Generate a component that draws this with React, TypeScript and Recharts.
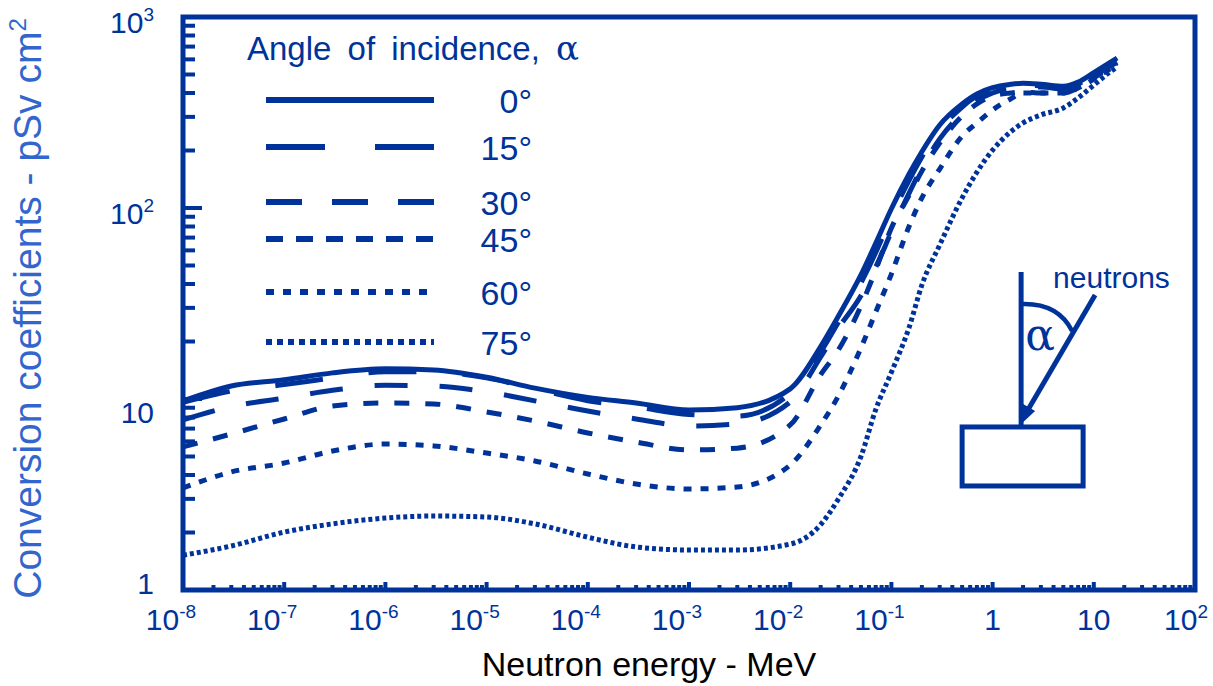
import React from 'react';
import { LineChart, Line, XAxis, YAxis, ReferenceArea, ReferenceDot, Legend } from 'recharts';

// ---------- data ----------
const energies = [1e-8, 3e-8, 1e-7, 3e-7, 1e-6, 3e-6, 1e-5, 3e-5, 1e-4, 3e-4, 1e-3, 3e-3,
  1e-2, 2e-2, 3e-2, 5e-2, 7e-2, 0.1, 0.15, 0.2, 0.3, 0.5, 0.7, 1, 1.5, 2, 3, 5, 7, 10, 14, 17];
const alpha0 = [9.76, 11.7, 12.6, 13.7, 14.4, 14.2, 13.0, 11.4, 10.2, 9.53, 8.76, 9.0,
  11.3, 18.8, 27.2, 44.6, 65.3, 99.1, 151, 197, 272, 351, 396, 427, 444, 450, 445, 434, 456, 511, 571, 610];
const alpha15 = [9.6, 11.0, 11.9, 12.9, 13.9, 13.9, 12.9, 11.3, 9.8, 9.1, 8.3, 8.15,
  10.7, 17.6, 25.3, 40.5, 58.5, 90.5, 140, 185, 256, 338, 386, 420, 436, 440, 436, 425, 445, 503, 562, 595];
const alpha30 = [7.77, 9.13, 10.1, 11.1, 11.8, 11.7, 10.9, 9.78, 8.65, 7.86, 7.22, 7.4,
  9.65, 16.6, 23.5, 34.7, 49, 75, 120, 162, 230, 313, 364, 400, 425, 430, 430, 420, 436, 490, 548, 580];
const alpha45 = [5.61, 6.56, 7.86, 9.19, 9.53, 9.42, 8.55, 7.67, 6.64, 5.95, 5.41, 5.53,
  7.31, 13.4, 18.1, 30.7, 47.4, 78.6, 117, 156, 219, 303, 351, 386, 400, 405, 400, 400, 425, 480, 541, 575];
const alpha60 = [3.42, 4.15, 4.62, 5.34, 5.81, 5.68, 5.21, 4.74, 4.05, 3.59, 3.38, 3.46,
  4.51, 7.31, 10.4, 18.5, 28.5, 45.1, 80.5, 113, 160, 238, 279, 326, 372, 400, 400, 400, 425, 473, 528, 561];
const alpha75 = [1.52, 1.70, 2.01, 2.22, 2.38, 2.44, 2.41, 2.22, 1.89, 1.68, 1.62, 1.62,
  1.74, 2.2, 3.0, 5.0, 8.8, 13.8, 23.8, 39.5, 64, 113, 154, 201, 250, 279, 307, 334, 377, 440, 509, 547];
const angleLabels = ['0°', '15°', '30°', '45°', '60°', '75°'];
const seriesKeys = ['a0', 'a15', 'a30', 'a45', 'a60', 'a75'];
const seriesValues = [alpha0, alpha15, alpha30, alpha45, alpha60, alpha75];
const xDomain = [1e-8, 100];
const yDomain = [1, 1000];
const legendTitle = 'Angle of incidence, ';
const xTitle = 'Neutron energy - MeV';
const yTitle = 'Conversion coefficients - pSv cm';

const data = energies.map((e, i) => {
  const row: any = { e };
  seriesKeys.forEach((k, s) => { row[k] = seriesValues[s][i]; });
  return row;
});

// ---------- styling ----------
const BLUE = '#003399';
const LIGHT_BLUE = '#3366CC';
const FONT = '"Liberation Sans", Arial, Helvetica, sans-serif';
const SERIF = '"DejaVu Serif", "Liberation Serif", "Times New Roman", serif';
const lineDash = ['', '48 46', '33 32', '15 16', '8 9', '4 3'];
const legendDash = ['', '59 50', '36 30', '17 13', '8 9', '6 5'];
const legendRowY = [72, 119, 174, 211, 264, 314];

const makeLogTicks = (minExp: number, maxExp: number) => {
  const t: number[] = [];
  for (let k = minExp; k < maxExp; k++) {
    for (let m = 1; m < 10; m++) t.push(Number((m * Math.pow(10, k)).toPrecision(6)));
  }
  t.push(Number(Math.pow(10, maxExp).toPrecision(6)));
  return t;
};
const xTicks = makeLogTicks(-8, 2);
const yTicks = makeLogTicks(0, 3);

const expOf = (v: number) => Math.round(Math.log10(v));
const isMajor = (v: number) => Math.abs(Math.log10(v) - expOf(v)) < 1e-6;

const TickText = ({ v, ...rest }: any) => {
  const e = expOf(v);
  const base = e === 0 ? '1' : '10';
  const sup = e === 0 || e === 1 ? '' : String(e);
  return (
    <text fill={BLUE} fontSize={30} fontFamily={FONT} {...rest}>
      {base}
      {sup && <tspan dy={-12} fontSize={19}>{sup}</tspan>}
    </text>
  );
};

const XTick = (props: any) => {
  const { x, y, payload } = props;
  const v = payload.value;
  const major = isMajor(v);
  const e = expOf(v);
  const hasSup = e !== 0 && e !== 1;
  return (
    <g>
      <line x1={x} x2={x} y1={y} y2={y - (major ? 8 : 5)} stroke={BLUE} strokeWidth={4} />
      {major && (
        <TickText v={v} x={x} y={y + 40} dx={hasSup ? (e < 0 ? -12 : -9) : 0} textAnchor="middle" />
      )}
    </g>
  );
};

const yLabelOffset: Record<number, number> = { 0: 4, 1: 24, 2: 16, 3: 16 };
const YTick = (props: any) => {
  const { x, y, payload } = props;
  const v = payload.value;
  const major = isMajor(v);
  return (
    <g>
      <line x1={x} x2={x + (major ? 19 : 12)} y1={y} y2={y} stroke={BLUE} strokeWidth={4} />
      {major && <TickText v={v} x={x - 29} y={y + yLabelOffset[expOf(v)]} textAnchor="end" />}
    </g>
  );
};

const XTitle = (props: any) => {
  const vb = props.viewBox || { x: 183, y: 590, width: 1012 };
  return (
    <text x={vb.x + vb.width / 2 - 40} y={676} textAnchor="middle" fill="#000" fontSize={34} fontFamily={FONT}>
      {xTitle}
    </text>
  );
};

const YTitle = (props: any) => {
  const vb = props.viewBox || { x: 0, y: 17, width: 183, height: 573 };
  const cx = 41;
  const cy = vb.y + vb.height / 2 + 5;
  return (
    <text x={cx} y={cy} transform={`rotate(-90, ${cx}, ${cy})`} textAnchor="middle" fill={LIGHT_BLUE}
      fontSize={39} fontFamily={FONT}>
      {yTitle}
      <tspan dy={-15} fontSize={24}>2</tspan>
    </text>
  );
};

const LegendContent = () => (
  <svg width={380} height={340} style={{ overflow: 'visible', display: 'block' }}>
    <text x={9} y={32} fill={BLUE} fontSize={33} fontFamily={FONT} wordSpacing={7}>
      {legendTitle}
      <tspan fontFamily={SERIF} fontSize={34}>α</tspan>
    </text>
    {angleLabels.map((lab, i) => (
      <g key={lab}>
        <line x1={28} x2={196} y1={legendRowY[i]} y2={legendRowY[i]} stroke={BLUE} strokeWidth={6}
          strokeDasharray={legendDash[i] || undefined} />
        <text x={294} y={legendRowY[i] + 13} textAnchor="end" fill={BLUE} fontSize={34} fontFamily={FONT}>
          {lab}
        </text>
      </g>
    ))}
  </svg>
);

const Diagram = (props: any) => {
  const { cx, cy } = props;
  if (cx == null || cy == null) return null;
  return (
    <g transform={`translate(${cx}, ${cy})`}>
      <rect x={-58} y={4} width={121} height={59} fill="none" stroke={BLUE} strokeWidth={5} />
      <line x1={1} x2={1} y1={-151} y2={2} stroke={BLUE} strokeWidth={5} />
      <line x1={75} y1={-128} x2={6} y2={-10} stroke={BLUE} strokeWidth={5} />
      <polygon points="0,2 15,-12 3,-19" fill={BLUE} />
      <path d="M 2 -119 Q 38 -120 52 -92" fill="none" stroke={BLUE} strokeWidth={4.5} />
      <text x={20} y={-73} textAnchor="middle" fill={BLUE} fontSize={44} fontFamily={SERIF}>α</text>
      <text x={33} y={-135} fill={BLUE} fontSize={30} fontFamily={FONT}>neutrons</text>
    </g>
  );
};

export default function App() {
  return (
    <div style={{ width: 1213, height: 686, background: '#fff' }}>
      <style>{'html,body{margin:0;padding:0;overflow:hidden;background:#fff}'}</style>
      <LineChart width={1213} height={686} data={data} margin={{ top: 17, right: 18, bottom: 0, left: 0 }}>
        <XAxis dataKey="e" type="number" scale="log" domain={xDomain} allowDataOverflow ticks={xTicks}
          interval={0} axisLine={false} tickLine={false} tickSize={0} tickMargin={0} height={96}
          tick={<XTick />} label={<XTitle />} />
        <YAxis type="number" scale="log" domain={yDomain} allowDataOverflow ticks={yTicks}
          interval={0} axisLine={false} tickLine={false} tickSize={0} tickMargin={0} width={183}
          tick={<YTick />} label={<YTitle />} />
        <ReferenceArea x1={xDomain[0]} x2={xDomain[1]} y1={yDomain[0]} y2={yDomain[1]} fill="none"
          fillOpacity={0} stroke={BLUE} strokeWidth={5} ifOverflow="visible" />
        {seriesKeys.map((k, i) => (
          <Line key={k} dataKey={k} name={angleLabels[i]} type="monotone" stroke={BLUE} strokeWidth={5}
            strokeDasharray={lineDash[i] || undefined} dot={false} activeDot={false}
            isAnimationActive={false} />
        ))}
        <ReferenceDot x={1.87} y={7.49} r={0} shape={<Diagram />} ifOverflow="visible" />
        <Legend layout="vertical" align="center" verticalAlign="middle" content={<LegendContent />}
          wrapperStyle={{ position: 'absolute', left: 238, top: 28, width: 380, height: 340 }} />
      </LineChart>
    </div>
  );
}
